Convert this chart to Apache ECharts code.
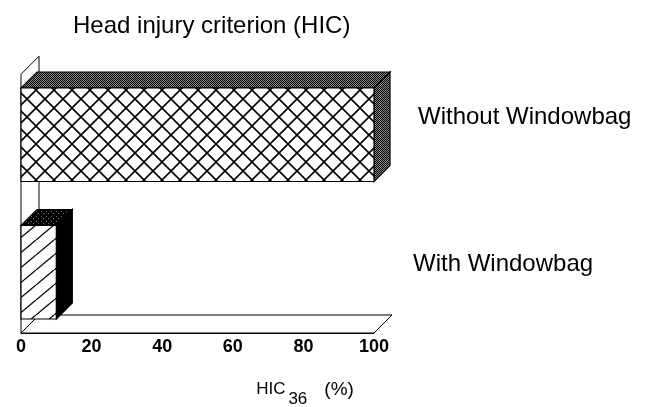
<!DOCTYPE html>
<html>
<head>
<meta charset="utf-8">
<script src="https://cdn.jsdelivr.net/npm/echarts@6.0.0/dist/echarts.min.js"></script>
<style>
  html, body { margin: 0; padding: 0; background: #fff; }
  #chart { width: 654px; height: 407px; }
</style>
</head>
<body>
<div id="chart"></div>
<script>
// data
const CATEGORIES = ["Without Windowbag", "With Windowbag"];
const HIC_PCT = [100, 10];
const X_TICKS = [0, 20, 40, 60, 80, 100];

const AXIS_MIN = X_TICKS[0];
const AXIS_MAX = X_TICKS[X_TICKS.length - 1];
const FONT = "'Liberation Sans', Arial, sans-serif";

// 3D look
const BAR_DEPTH = 16;
const FLOOR_DEPTH = 18;
const BAR_RATIO = 0.68;
const AXIS_LIFT = 8;

// small canvas tiles used as fill patterns
function tile(w, h, draw) {
  const c = document.createElement("canvas");
  c.width = w;
  c.height = h;
  const g = c.getContext("2d");
  g.fillStyle = "#fff";
  g.fillRect(0, 0, w, h);
  draw(g, w, h);
  return { image: c, repeat: "repeat" };
}

const crossHatch = tile(18, 18, (g, w, h) => {
  g.strokeStyle = "#000";
  g.lineWidth = 1.6;
  for (let k = -1; k <= 1; k++) {
    g.beginPath();
    g.moveTo(k * w, 0);
    g.lineTo(k * w + w, h);
    g.moveTo(k * w + w, 0);
    g.lineTo(k * w, h);
    g.stroke();
  }
});

const slashHatch = tile(18, 15, (g, w, h) => {
  g.strokeStyle = "#000";
  g.lineWidth = 1.3;
  for (let k = -1; k <= 1; k++) {
    g.beginPath();
    g.moveTo(k * w, h);
    g.lineTo(k * w + w, 0);
    g.stroke();
  }
});

const greyDots = tile(2, 2, (g) => {
  g.fillStyle = "#8a8a8a";
  g.fillRect(0, 0, 2, 2);
  g.fillStyle = "#000";
  g.fillRect(0, 0, 1, 1);
  g.fillRect(1, 1, 1, 1);
});

const darkDots = tile(5, 5, (g) => {
  g.fillStyle = "#000";
  g.fillRect(0, 0, 5, 5);
  g.fillStyle = "#777";
  g.fillRect(1, 1, 1, 1);
  g.fillRect(3, 3, 1, 1);
});

const FACES = [
  { front: crossHatch, top: greyDots, side: greyDots },
  { front: slashHatch, top: darkDots, side: "#000" },
];

function edge(fill) {
  return { fill: fill, stroke: "#000", lineWidth: 1.2 };
}

function renderBar(params, api) {
  const idx = api.value(1);
  const val = api.value(0);
  const p0 = api.coord([AXIS_MIN, idx]);
  const p1 = api.coord([val, idx]);
  const band = api.size([0, 1])[1];
  const h = band * BAR_RATIO;
  const x = p0[0];
  const y = p0[1] - h / 2;
  const w = p1[0] - p0[0];
  const d = BAR_DEPTH;
  const f = FACES[idx] || FACES[0];
  return {
    type: "group",
    children: [
      {
        type: "polygon",
        shape: { points: [[x, y], [x + d, y - d], [x + w + d, y - d], [x + w, y]] },
        style: edge(f.top),
      },
      {
        type: "polygon",
        shape: { points: [[x + w, y], [x + w + d, y - d], [x + w + d, y + h - d], [x + w, y + h]] },
        style: edge(f.side),
      },
      {
        type: "rect",
        shape: { x: x, y: y, width: w, height: h },
        style: edge(f.front),
      },
    ],
  };
}

// back wall + floor, placed from the axes
function renderFrame(params, api) {
  const first = api.coord([AXIS_MIN, 0]);
  const last = api.coord([AXIS_MAX, CATEGORIES.length - 1]);
  const band = api.size([0, 1])[1];
  const d = FLOOR_DEPTH;
  const x0 = first[0];
  const x1 = last[0];
  const yFloor = last[1] + band / 2 - AXIS_LIFT;
  const yTop = first[1] - band * 0.44;
  const line = { fill: "#fff", stroke: "#000", lineWidth: 1 };
  return {
    type: "group",
    children: [
      {
        type: "polygon",
        shape: { points: [[x0, yFloor], [x0, yTop], [x0 + d, yTop - d], [x0 + d, yFloor - d]] },
        style: line,
      },
      {
        type: "polygon",
        shape: { points: [[x0, yFloor], [x1, yFloor], [x1 + d, yFloor - d], [x0 + d, yFloor - d]] },
        style: line,
      },
    ],
  };
}

const chart = echarts.init(document.getElementById("chart"), null, { renderer: "canvas" });

chart.setOption({
  animation: false,
  backgroundColor: "#fff",
  title: {
    text: "Head injury criterion (HIC)",
    left: 68,
    top: 9,
    textStyle: { fontFamily: FONT, fontSize: 24, fontWeight: "normal", color: "#000" },
  },
  grid: { left: 21, right: 280, top: 66, bottom: 66, outerBoundsMode: "none", containLabel: false },
  xAxis: {
    type: "value",
    min: AXIS_MIN,
    max: AXIS_MAX,
    interval: X_TICKS[1] - X_TICKS[0],
    offset: -AXIS_LIFT,
    axisLine: { show: true, lineStyle: { color: "#000", width: 1 } },
    axisTick: { show: true, inside: true, length: 5, lineStyle: { color: "#000" } },
    axisLabel: { fontFamily: FONT, fontSize: 18, fontWeight: "bold", color: "#000", margin: 5 },
    splitLine: { show: false },
    name: "{m|HIC}{s|36}{p|(%)}",
    nameLocation: "middle",
    nameGap: 38,
    nameTextStyle: {
      padding: [0, 0, 0, 215],
      rich: {
        m: { fontFamily: FONT, fontSize: 17, color: "#000" },
        s: { fontFamily: FONT, fontSize: 17, color: "#000", padding: [20, 0, 0, 3] },
        p: { fontFamily: FONT, fontSize: 19, color: "#000", padding: [0, 0, 0, 17] },
      },
    },
  },
  yAxis: {
    type: "category",
    data: CATEGORIES,
    inverse: true,
    position: "right",
    axisLine: { show: false },
    axisTick: { show: false },
    axisLabel: {
      margin: 39,
      formatter: (v, i) => (i === 0 ? "{a|" + v + "}" : "{b|" + v + "}"),
      rich: {
        a: { fontFamily: FONT, fontSize: 24, color: "#000", padding: [0, 0, 34, 5] },
        b: { fontFamily: FONT, fontSize: 24, color: "#000", padding: [0, 0, 15, 0] },
      },
    },
    splitLine: { show: false },
  },
  series: [
    {
      type: "custom",
      name: "frame",
      z: 1,
      clip: false,
      silent: true,
      renderItem: renderFrame,
      data: [[AXIS_MIN, 0]],
    },
    {
      type: "custom",
      name: "HIC36",
      z: 2,
      clip: false,
      renderItem: renderBar,
      encode: { x: 0, y: 1 },
      data: HIC_PCT.map((v, i) => [v, i]),
    },
  ],
});
</script>
</body>
</html>
